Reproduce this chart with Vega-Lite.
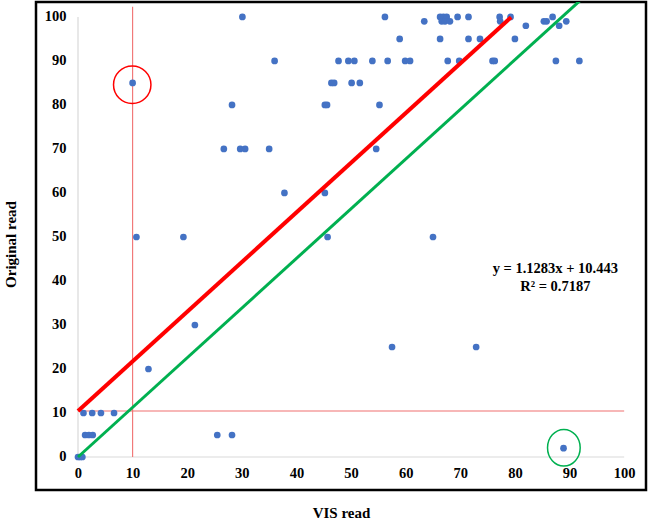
{
  "$schema": "https://vega.github.io/schema/vega-lite/v6.json",
  "width": 610,
  "height": 488,
  "autosize": "none",
  "padding": {"left": 36, "top": 2, "right": 6, "bottom": 29},
  "background": "white",
  "config": {"view": {"stroke": "#000000", "strokeWidth": 2.5}, "font": "Liberation Serif"},
  "datasets": {
    "pts": [
      {"x": 30.1, "y": 100}, {"x": 56.2, "y": 100}, {"x": 66.3, "y": 100}, {"x": 66.9, "y": 100}, {"x": 67.5, "y": 100},
      {"x": 69.5, "y": 100}, {"x": 71.5, "y": 100}, {"x": 77.2, "y": 100}, {"x": 79.2, "y": 100}, {"x": 86.9, "y": 100},
      {"x": 63.4, "y": 99}, {"x": 66.6, "y": 99}, {"x": 67.2, "y": 99}, {"x": 68.1, "y": 99}, {"x": 77.3, "y": 99},
      {"x": 85.3, "y": 99}, {"x": 85.8, "y": 99}, {"x": 89.4, "y": 99},
      {"x": 82.0, "y": 98}, {"x": 88.1, "y": 98},
      {"x": 58.9, "y": 95}, {"x": 66.3, "y": 95}, {"x": 71.5, "y": 95}, {"x": 73.6, "y": 95}, {"x": 80.0, "y": 95},
      {"x": 36.0, "y": 90}, {"x": 47.7, "y": 90}, {"x": 49.5, "y": 90}, {"x": 50.6, "y": 90}, {"x": 53.9, "y": 90},
      {"x": 56.7, "y": 90}, {"x": 59.9, "y": 90}, {"x": 60.8, "y": 90}, {"x": 67.7, "y": 90}, {"x": 69.8, "y": 90},
      {"x": 75.9, "y": 90}, {"x": 76.3, "y": 90}, {"x": 87.5, "y": 90}, {"x": 91.8, "y": 90},
      {"x": 10.0, "y": 85}, {"x": 46.4, "y": 85}, {"x": 46.9, "y": 85}, {"x": 50.1, "y": 85}, {"x": 51.6, "y": 85},
      {"x": 28.2, "y": 80}, {"x": 45.2, "y": 80}, {"x": 45.6, "y": 80}, {"x": 55.2, "y": 80},
      {"x": 26.7, "y": 70}, {"x": 29.7, "y": 70}, {"x": 30.6, "y": 70}, {"x": 35.0, "y": 70}, {"x": 54.6, "y": 70},
      {"x": 37.8, "y": 60}, {"x": 45.2, "y": 60},
      {"x": 10.7, "y": 50}, {"x": 19.3, "y": 50}, {"x": 45.7, "y": 50}, {"x": 65.0, "y": 50},
      {"x": 21.4, "y": 30},
      {"x": 57.5, "y": 25}, {"x": 72.9, "y": 25},
      {"x": 12.9, "y": 20},
      {"x": 1.0, "y": 10}, {"x": 2.6, "y": 10}, {"x": 4.2, "y": 10}, {"x": 6.6, "y": 10},
      {"x": 1.3, "y": 5}, {"x": 2.0, "y": 5}, {"x": 2.7, "y": 5}, {"x": 25.5, "y": 5}, {"x": 28.2, "y": 5},
      {"x": 88.9, "y": 2},
      {"x": 0.0, "y": 0}, {"x": 0.4, "y": 0}, {"x": 0.8, "y": 0}
    ],
    "lines": [
      {"kind": "axis", "x": 0, "y": 0, "x2": 100, "y2": 0},
      {"kind": "axis", "x": 0, "y": 0, "x2": 0, "y2": 100},
      {"kind": "guide", "x": 0, "y": 10.443, "x2": 100, "y2": 10.443},
      {"kind": "guide", "x": 10, "y": 0, "x2": 10, "y2": 102.3},
      {"kind": "fit", "x": 0, "y": 10.443, "x2": 79.3, "y2": 99.92},
      {"kind": "parallel", "x": 0, "y": 0, "x2": 95, "y2": 107.19}
    ],
    "marks": [
      {"kind": "red", "x": 9.93, "y": 84.6},
      {"kind": "green", "x": 88.96, "y": 2.1}
    ],
    "notes": [
      {"x": 87.4, "y": 42.7, "label": "y = 1.1283x + 10.443"},
      {"x": 87.4, "y": 38.7, "label": "R² = 0.7187"}
    ]
  },
  "encoding": {
    "x": {
      "field": "x", "type": "quantitative",
      "scale": {"domain": [-7.69, 104.0], "nice": false, "zero": false},
      "axis": {
        "title": "VIS read", "values": [0, 10, 20, 30, 40, 50, 60, 70, 80, 90, 100],
        "offset": -33, "domain": false, "ticks": false, "tickSize": 0, "grid": false,
        "labelFont": "Liberation Serif", "labelFontWeight": "bold", "labelFontSize": 14.5, "labelColor": "#000000",
        "labelPadding": 9, "labelFlush": false, "labelOverlap": false,
        "titleFont": "Liberation Serif", "titleFontWeight": "bold", "titleFontSize": 15, "titleColor": "#000000",
        "titleY": 55, "titleBaseline": "middle"
      }
    },
    "y": {
      "field": "y", "type": "quantitative",
      "scale": {"domain": [-7.5, 103.4], "nice": false, "zero": false},
      "axis": {
        "title": "Original read", "values": [0, 10, 20, 30, 40, 50, 60, 70, 80, 90, 100],
        "offset": -42, "domain": false, "ticks": false, "tickSize": 0, "grid": false,
        "labelFont": "Liberation Serif", "labelFontWeight": "bold", "labelFontSize": 14.5, "labelColor": "#000000",
        "labelPadding": 12, "labelFlush": false, "labelOverlap": false,
        "titleFont": "Liberation Serif", "titleFontWeight": "bold", "titleFontSize": 15, "titleColor": "#000000",
        "titleX": -68, "titleY": 242, "titleBaseline": "middle"
      }
    }
  },
  "layer": [
    {
      "data": {"name": "lines"},
      "transform": [{"filter": "datum.kind === 'axis'"}],
      "mark": {"type": "rule", "color": "#d9d9d9", "strokeWidth": 1.2},
      "encoding": {"x2": {"field": "x2"}, "y2": {"field": "y2"}}
    },
    {
      "data": {"name": "lines"},
      "transform": [{"filter": "datum.kind === 'guide'"}],
      "mark": {"type": "rule", "color": "#f07070", "strokeWidth": 1.1},
      "encoding": {"x2": {"field": "x2"}, "y2": {"field": "y2"}}
    },
    {
      "data": {"name": "pts"},
      "mark": {"type": "point", "filled": true, "shape": "circle", "size": 45, "color": "#4472C4", "opacity": 1}
    },
    {
      "data": {"name": "lines"},
      "transform": [{"filter": "datum.kind === 'fit'"}],
      "mark": {"type": "rule", "color": "#ff0000", "strokeWidth": 4},
      "encoding": {"x2": {"field": "x2"}, "y2": {"field": "y2"}}
    },
    {
      "data": {"name": "lines"},
      "transform": [{"filter": "datum.kind === 'parallel'"}],
      "mark": {"type": "rule", "color": "#00b050", "strokeWidth": 3, "clip": true},
      "encoding": {"x2": {"field": "x2"}, "y2": {"field": "y2"}}
    },
    {
      "data": {"name": "marks"},
      "transform": [{"filter": "datum.kind === 'red'"}],
      "mark": {"type": "point", "shape": "circle", "filled": false, "size": 1400, "color": "#ff0000", "strokeWidth": 1.5, "opacity": 1}
    },
    {
      "data": {"name": "marks"},
      "transform": [{"filter": "datum.kind === 'green'"}],
      "mark": {"type": "point", "shape": "M -0.89 0 A 0.89 1 0 1 0 0.89 0 A 0.89 1 0 1 0 -0.89 0 Z", "filled": false, "size": 1347, "color": "#00b050", "strokeWidth": 1.5, "opacity": 1}
    },
    {
      "data": {"name": "notes"},
      "mark": {"type": "text", "font": "Liberation Serif", "fontWeight": "bold", "fontSize": 14.5, "color": "#000000", "align": "center", "baseline": "middle"},
      "encoding": {"text": {"field": "label"}}
    }
  ]
}
